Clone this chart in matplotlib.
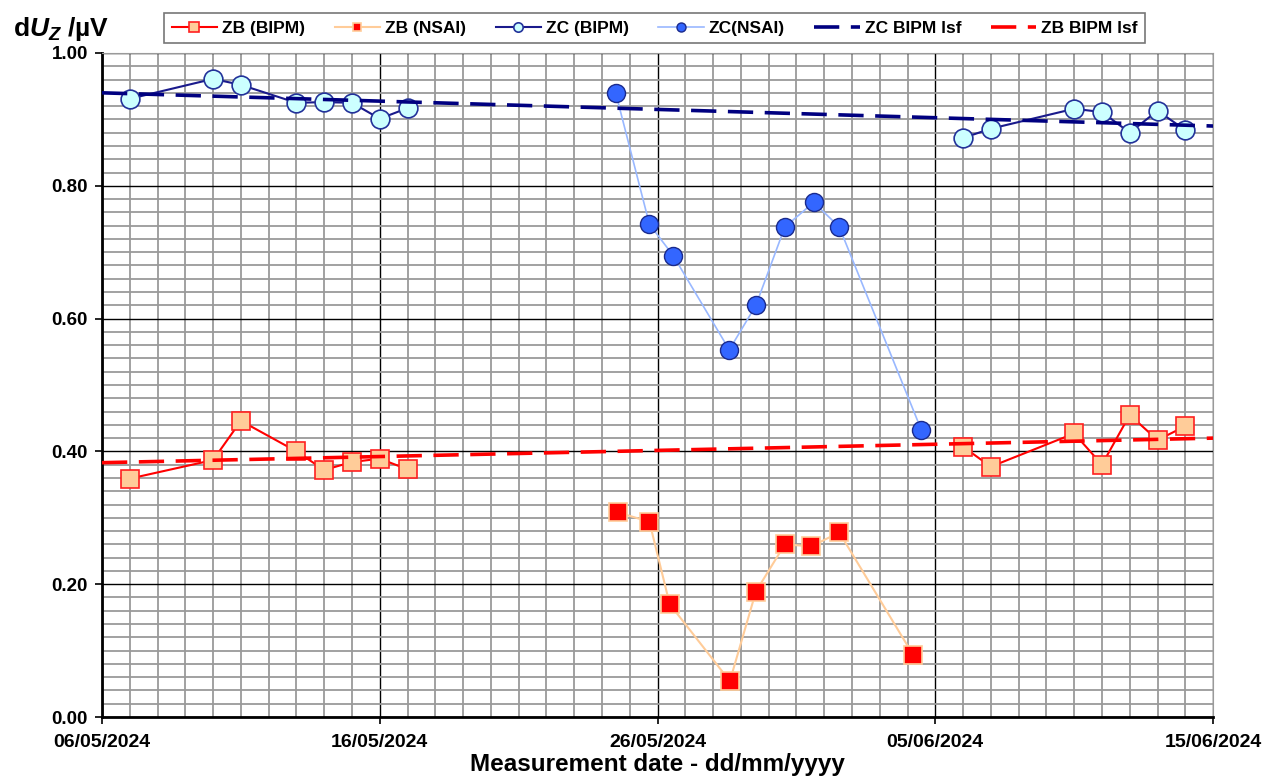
import matplotlib
matplotlib.use('Agg')
import matplotlib.pyplot as plt
import matplotlib.dates as mdates
import matplotlib.ticker as mticker
import pandas as pd

plt.rcParams['font.family'] = ['Liberation Sans', 'DejaVu Sans']
plt.rcParams['mathtext.fontset'] = 'custom'
plt.rcParams['mathtext.it'] = 'Liberation Sans:bold:italic'
plt.rcParams['mathtext.rm'] = 'Liberation Sans:bold'

# BIPM measurements (both standards measured on the same days)
bipm_dates = ['2024-05-07', '2024-05-10', '2024-05-11', '2024-05-13', '2024-05-14',
              '2024-05-15', '2024-05-16', '2024-05-17', '2024-06-06', '2024-06-07',
              '2024-06-10', '2024-06-11', '2024-06-12', '2024-06-13', '2024-06-14']
zb_bipm = [0.359, 0.387, 0.446, 0.400, 0.372, 0.384, 0.389, 0.373,
           0.407, 0.377, 0.427, 0.380, 0.455, 0.417, 0.438]
zc_bipm = [0.931, 0.961, 0.952, 0.925, 0.926, 0.925, 0.901, 0.917,
           0.872, 0.886, 0.916, 0.911, 0.880, 0.913, 0.884]

# NSAI measurements
zb_nsai_dates = ['2024-05-24 14:00', '2024-05-25 17:00', '2024-05-26 10:30',
                 '2024-05-28 14:30', '2024-05-29 13:00', '2024-05-30 14:00',
                 '2024-05-31 13:00', '2024-06-01 13:00', '2024-06-04 05:00']
zb_nsai = [0.308, 0.294, 0.170, 0.054, 0.189, 0.260, 0.257, 0.278, 0.093]
zc_nsai_dates = ['2024-05-24 12:00', '2024-05-25 17:00', '2024-05-26 13:30',
                 '2024-05-28 14:00', '2024-05-29 13:00', '2024-05-30 14:00',
                 '2024-05-31 15:00', '2024-06-01 13:00', '2024-06-04 12:00']
zc_nsai = [0.939, 0.742, 0.695, 0.553, 0.620, 0.738, 0.775, 0.738, 0.432]

# least-squares fit lines over the plotted period
lsf_dates = ['2024-05-06', '2024-06-15']
zc_lsf = [0.940, 0.890]
zb_lsf = [0.383, 0.420]

bd = pd.to_datetime(bipm_dates)
# the BIPM runs before and after the trip are not joined
n_before = sum(d < pd.Timestamp('2024-05-20') for d in bd)

fig = plt.figure(figsize=(12.64, 7.78), dpi=100)
ax = fig.add_axes([0.0807, 0.0784, 0.8790, 0.8535])

zb_style = dict(marker='s', color='#ff0000', lw=1.5, ms=13.5, mfc='#ffcc99',
                mec='#ff2020', mew=1.2, zorder=4)
zc_style = dict(marker='o', color='#1a1a8c', lw=1.5, ms=13.5, mfc='#ccffff',
                mec='#23329a', mew=1.2, zorder=4)
l1, = ax.plot(bd[:n_before], zb_bipm[:n_before], label='ZB (BIPM)', **zb_style)
ax.plot(bd[n_before:], zb_bipm[n_before:], **zb_style)
l2, = ax.plot(pd.to_datetime(zb_nsai_dates), zb_nsai, '-s', color='#ffcc99', lw=1.5,
              ms=12.5, mfc='#ff0000', mec='#ffcc99', mew=1.2, label='ZB (NSAI)', zorder=4)
l3, = ax.plot(bd[:n_before], zc_bipm[:n_before], label='ZC (BIPM)', **zc_style)
ax.plot(bd[n_before:], zc_bipm[n_before:], **zc_style)
l4, = ax.plot(pd.to_datetime(zc_nsai_dates), zc_nsai, '-o', color='#99b8ff', lw=1.2,
              ms=13, mfc='#3366ff', mec='#1a2a8c', mew=1.0, label='ZC(NSAI)', zorder=4)
l5, = ax.plot(pd.to_datetime(lsf_dates), zc_lsf, '--', color='#000080', lw=2.6,
              dashes=(7, 3.2), label='ZC BIPM lsf', zorder=5)
l6, = ax.plot(pd.to_datetime(lsf_dates), zb_lsf, '--', color='#ff0000', lw=2.6,
              dashes=(7, 3.2), label='ZB BIPM lsf', zorder=5)

ax.set_xlim(pd.Timestamp('2024-05-06'), pd.Timestamp('2024-06-15'))
ax.set_ylim(0, 1.0)
ax.set_xticks(pd.date_range('2024-05-06', '2024-06-15', freq='10D'))
ax.set_xticks(pd.date_range('2024-05-06', '2024-06-15', freq='1D'), minor=True)
ax.xaxis.set_major_formatter(mdates.DateFormatter('%d/%m/%Y'))
ax.set_yticks([0, 0.2, 0.4, 0.6, 0.8, 1.0])
ax.set_yticks([i * 0.02 for i in range(51)], minor=True)
ax.yaxis.set_major_formatter(mticker.FormatStrFormatter('%.2f'))

ax.grid(which='minor', color='#9a9a9a', lw=1.3, zorder=0)
ax.grid(which='major', color='#000000', lw=1.0, zorder=1)
ax.set_axisbelow(True)
ax.tick_params(which='minor', length=0)
ax.tick_params(which='major', length=5, width=1.2, direction='out', pad=5)
ax.tick_params(axis='x', which='major', pad=7)
for lab in ax.get_xticklabels():
    lab.set_fontweight('bold')
    lab.set_fontsize(14)
for lab in ax.get_yticklabels():
    lab.set_fontweight('bold')
    lab.set_fontsize(13.5)
for s in ['top', 'right']:
    ax.spines[s].set_color('#9a9a9a')
for s in ['left', 'bottom']:
    ax.spines[s].set_linewidth(2)

ax.set_xlabel('Measurement date - dd/mm/yyyy', fontsize=17.5, fontweight='bold', labelpad=2)
fig.text(0.010, 0.963, r'd$U_Z$ /µV', fontsize=19, fontweight='bold', va='center')

leg = fig.legend(handles=[l1, l2, l3, l4, l5, l6], loc='center', ncol=6,
                 bbox_to_anchor=(0.518, 0.964), frameon=True, fancybox=False,
                 edgecolor='#555555', markerscale=0.5, handlelength=2.6,
                 columnspacing=1.7, handletextpad=0.3, borderpad=0.45,
                 prop={'weight': 'bold', 'size': 12.5})
leg.get_frame().set_linewidth(1.2)

fig.savefig('out.png', dpi=100)
